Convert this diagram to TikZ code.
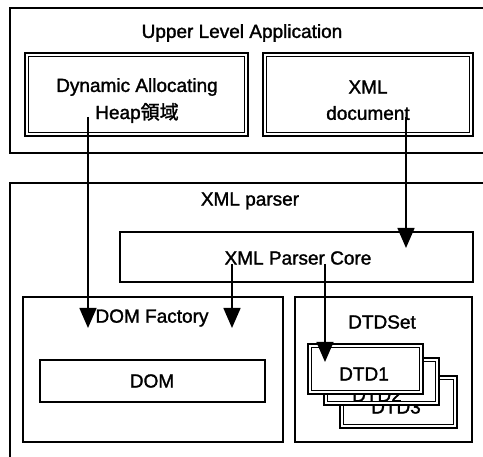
\documentclass[tikz,border=0pt]{standalone}
\usepackage{fontspec}
\setmainfont{Liberation Sans}[FakeBold=1.5]
\newfontfamily\jpfont{Noto Sans CJK JP}[FakeBold=1.5]
\usetikzlibrary{arrows.meta}
\begin{document}
\begin{tikzpicture}[x=1pt,y=-1pt,
  box/.style={draw,line width=1.8pt},
  thinbox/.style={draw,line width=1.5pt},
  lbl/.style={font=\fontsize{19}{22}\selectfont,inner sep=0pt,anchor=center},
  arr/.style={line width=1.5pt,-{Triangle[width=17pt,length=20pt]}},
  dbl/.style={draw,line width=2pt,fill=white}
]
\useasboundingbox (0,0) rectangle (483,457);
\clip (0,0) rectangle (483,457);
% outer boxes
\draw[box] (500,8) -- (10,8) -- (10,153) -- (500,153);
\node[lbl] (ula) at (242,33) {Upper Level Application};
\draw[box] (500,183) -- (10,183) -- (10,470);
\node[lbl] (xp) at (250,201) {XML parser};
% heap box
\draw[dbl] (25,53) rectangle (248,136);
\draw[line width=0.8pt] (28.5,56.5) rectangle (244.5,132.5);
\node[lbl] (heap1) at (137,87) {Dynamic Allocating};
\node[lbl] (heap2) at (137,113) {Heap{\jpfont 領域}};
% xml doc box
\draw[dbl] (263,53) rectangle (473,136);
\draw[line width=0.8pt] (266.5,56.5) rectangle (469.5,132.5);
\node[lbl] (xml1) at (368,87) {XML};
\node[lbl] (xml2) at (368,113) {document};
% parser core
\draw[thinbox] (120,232) rectangle (473,282);
\node[lbl] (core) at (298,258) {XML Parser Core};
% DOM factory
\draw[thinbox] (23,297) rectangle (283,442);
\node[lbl] (domf) at (152,318) {DOM Factory};
\draw[thinbox] (40,360) rectangle (265,402);
\node[lbl] (dom) at (152,381) {DOM};
% DTDSet
\draw[thinbox] (295,297) rectangle (472,442);
\node[lbl] (dtdset) at (382,322) {DTDSet};
% DTD3
\draw[dbl] (340,376) rectangle (457,428);
\draw[line width=0.8pt] (343.5,379.5) rectangle (453.5,424.5);
\node[lbl] (dtd3) at (396,407) {DTD3};
% DTD2
\draw[dbl] (324,358) rectangle (439,405);
\draw[line width=0.8pt] (327.5,361.5) rectangle (435.5,401.5);
\node[lbl] (dtd2) at (377,395) {DTD2};
% DTD1
\draw[dbl] (308,344) rectangle (423,394);
\draw[line width=0.8pt] (311.5,347.5) rectangle (419.5,390.5);
\node[lbl] (dtd1) at (364,374) {DTD1};
% arrows
\coordinate (a1s) at (88,117);
\coordinate (a1e) at (88,328);
\coordinate (a2s) at (406,117);
\coordinate (a2e) at (406,248);
\coordinate (a3s) at (232,264);
\coordinate (a3e) at (232,328);
\coordinate (a4s) at (325,264);
\coordinate (a4e) at (325,362);
\draw[arr] (a1s) -- (a1e);
\draw[arr] (a2s) -- (a2e);
\draw[arr] (a3s) -- (a3e);
\draw[arr] (a4s) -- (a4e);
\end{tikzpicture}
\end{document}
